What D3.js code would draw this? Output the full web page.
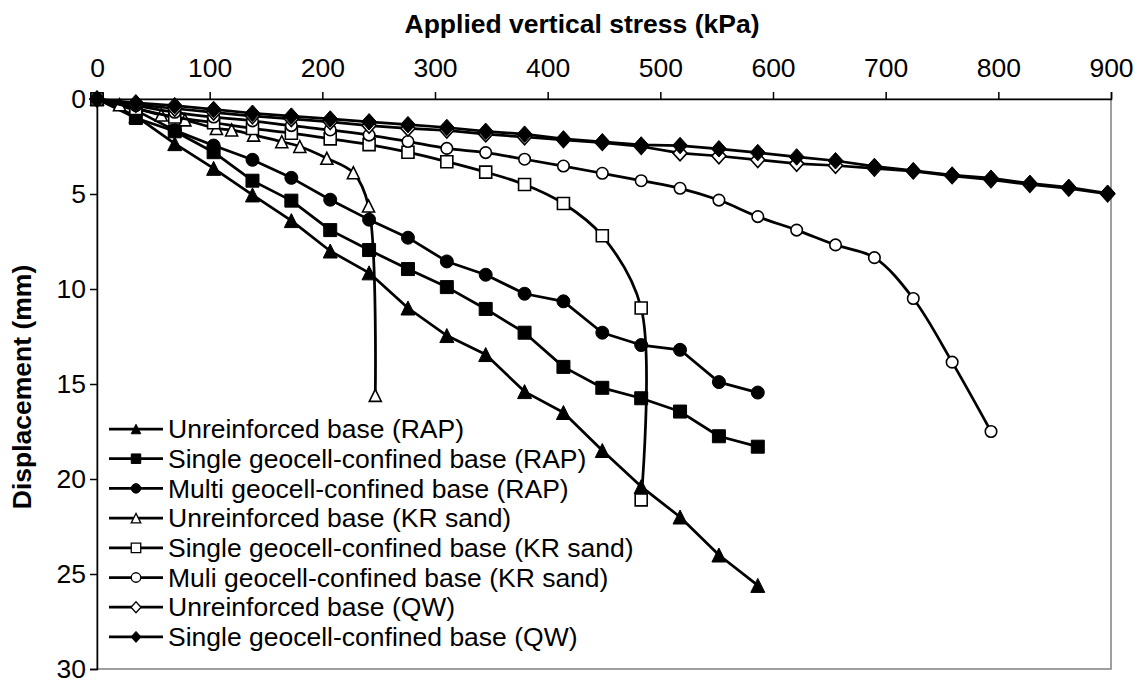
<!DOCTYPE html>
<html><head><meta charset="utf-8">
<script src="https://cdn.jsdelivr.net/npm/d3@7"></script>
<style>
html,body{margin:0;padding:0;background:#fff;}
svg{display:block;}
text{font-family:"Liberation Sans",Arial,sans-serif;fill:#000;}
</style></head>
<body>
<svg id="chart" width="1143" height="686"></svg>
<script>
// ---------- data ----------
const xTicks = [0,100,200,300,400,500,600,700,800,900];
const yTicks = [0,5,10,15,20,25,30];
const seriesNames = [
  "Unreinforced base (RAP)",
  "Single geocell-confined base (RAP)",
  "Multi geocell-confined base (RAP)",
  "Unreinforced base (KR sand)",
  "Single geocell-confined base (KR sand)",
  "Muli geocell-confined base (KR sand)",
  "Unreinforced base (QW)",
  "Single geocell-confined base (QW)"
];
const unreinforcedRAP = [[0,0],[34.5,0.9],[69,2.35],[103.5,3.65],[138,5.05],[172.5,6.4],[207,8.0],[241.5,9.15],[276,11.0],[310.5,12.45],[345,13.45],[379.5,15.4],[414,16.5],[448.5,18.5],[483,20.4],[517.5,22.0],[552,24.0],[586.5,25.6]];
const singleRAP = [[0,0],[34.5,1.0],[69,1.7],[103.5,2.8],[138,4.3],[172.5,5.35],[207,6.9],[241.5,7.95],[276,8.95],[310.5,9.9],[345,11.05],[379.5,12.3],[414,14.1],[448.5,15.2],[483,15.75],[517.5,16.45],[552,17.75],[586.5,18.3]];
const multiRAP = [[0,0],[34.5,0.6],[69,1.65],[103.5,2.45],[138,3.2],[172.5,4.15],[207,5.3],[241.5,6.35],[276,7.3],[310.5,8.55],[345,9.25],[379.5,10.25],[414,10.65],[448.5,12.3],[483,12.95],[517.5,13.2],[552,14.9],[586.5,15.45]];
const unreinforcedKR = [[0,0],[20,0.3],[35,0.5],[57,0.84],[78,1.1],[106,1.55],[119.5,1.63],[139,1.9],[164,2.25],[180,2.5],[204,3.12],[227.5,3.88],[241,5.63],[247,15.6]];
const singleKR = [[0,0],[34.5,0.5],[69,0.95],[103.5,1.25],[138,1.55],[172.5,1.8],[207,2.1],[241.5,2.4],[276,2.8],[310.5,3.3],[345,3.85],[379.5,4.5],[414,5.5],[448.5,7.2],[483,11.0],[483,21.1]];
const multiKR = [[0,0],[34.5,0.35],[69,0.7],[103.5,0.95],[138,1.15],[172.5,1.4],[207,1.63],[241.5,1.9],[276,2.24],[310.5,2.6],[345,2.82],[379.5,3.17],[414,3.53],[448.5,3.91],[483,4.3],[517.5,4.7],[552,5.32],[586.5,6.19],[621,6.9],[655.5,7.68],[690,8.35],[724.5,10.5],[759,13.85],[793.5,17.5]];
const unreinforcedQW = [[0,0],[34.5,0.3],[69,0.5],[103.5,0.7],[138,0.9],[172.5,1.05],[207,1.2],[241.5,1.4],[276,1.55],[310.5,1.65],[345,1.85],[379.5,2.0],[414,2.15],[448.5,2.3],[483,2.5],[517.5,2.85],[552,3.0],[586.5,3.2],[621,3.4],[655.5,3.5],[690,3.65],[724.5,3.8],[759,4.05],[793.5,4.25],[828,4.5],[862.5,4.7],[897,5.0]];
const singleQW = [[0,0],[34.5,0.2],[69,0.35],[103.5,0.55],[138,0.75],[172.5,0.9],[207,1.05],[241.5,1.2],[276,1.35],[310.5,1.5],[345,1.7],[379.5,1.85],[414,2.1],[448.5,2.25],[483,2.42],[517.5,2.45],[552,2.62],[586.5,2.82],[621,3.05],[655.5,3.25],[690,3.55],[724.5,3.77],[759,4.0],[793.5,4.17],[828,4.44],[862.5,4.65],[897,4.96]];

// ---------- setup ----------
const svg = d3.select("#chart");
const L = 97, T = 99, R = 1111, B = 669;
const x = d3.scaleLinear().domain([0,900]).range([L,R]);
const y = d3.scaleLinear().domain([0,30]).range([T,B]);

const series = [
  {name:seriesNames[0], data:unreinforcedRAP, shape:"triangle", filled:true,  smooth:false, size:14},
  {name:seriesNames[1], data:singleRAP,       shape:"square",   filled:true,  smooth:false, size:13},
  {name:seriesNames[2], data:multiRAP,        shape:"circle",   filled:true,  smooth:false, size:13},
  {name:seriesNames[3], data:unreinforcedKR,  shape:"triangle", filled:false, smooth:true,  size:12},
  {name:seriesNames[4], data:singleKR,        shape:"square",   filled:false, smooth:true,  size:12},
  {name:seriesNames[5], data:multiKR,         shape:"circle",   filled:false, smooth:true,  size:11.5},
  {name:seriesNames[6], data:unreinforcedQW,  shape:"diamond",  filled:false, smooth:false, size:14},
  {name:seriesNames[7], data:singleQW,        shape:"diamond",  filled:true,  smooth:false, size:15}
];

function markerPath(shape, s){
  const h = s/2;
  if(shape==="triangle") return `M0,${-h}L${h},${h}L${-h},${h}Z`;
  if(shape==="square") return `M${-h},${-h}H${h}V${h}H${-h}Z`;
  if(shape==="circle") return `M${h},0A${h},${h} 0 1,1 ${-h},0A${h},${h} 0 1,1 ${h},0Z`;
  if(shape==="diamond") return `M0,${-h*1.1}L${h},0L0,${h*1.1}L${-h},0Z`;
}

// plot frame
svg.append("rect").attr("x",L).attr("y",T).attr("width",R-L).attr("height",B-T)
  .attr("fill","none").attr("stroke","#808080").attr("stroke-width",1.5);

// axes
const xAxis = svg.append("g").attr("transform",`translate(0,${T})`)
  .call(d3.axisTop(x).tickValues(xTicks).tickSize(7).tickPadding(15).tickFormat(d3.format("d")));
const yAxis = svg.append("g").attr("transform",`translate(${L},0)`)
  .call(d3.axisLeft(y).tickValues(yTicks).tickSize(7).tickPadding(4).tickFormat(d3.format("d")));
[xAxis,yAxis].forEach(g=>{
  g.select(".domain").attr("stroke","#000").attr("stroke-width",1.5);
  g.selectAll(".tick line").attr("stroke","#000").attr("stroke-width",1.5);
  g.selectAll(".tick text").attr("font-size","26.5px").attr("font-family","'Liberation Sans',Arial,sans-serif").attr("fill","#000");
});
xAxis.selectAll(".tick text").attr("dy","0");

// titles
svg.append("text").attr("x",582).attr("y",33).attr("text-anchor","middle")
  .attr("font-size","26.5px").attr("font-weight","bold").text("Applied vertical stress (kPa)");
svg.append("text").attr("transform","translate(31,387) rotate(-90)").attr("text-anchor","middle")
  .attr("font-size","26.5px").attr("font-weight","bold").text("Displacement (mm)");

// series
const plot = svg.append("g");
series.forEach(s=>{
  const line = d3.line().x(d=>x(d[0])).y(d=>y(d[1]))
    .curve(s.smooth ? d3.curveCatmullRom.alpha(0.5) : d3.curveLinear);
  plot.append("path").datum(s.data).attr("d",line)
    .attr("fill","none").attr("stroke","#000").attr("stroke-width",2.75).attr("stroke-linejoin","round");
  plot.append("g").selectAll("path").data(s.data).join("path")
    .attr("transform",d=>`translate(${x(d[0])},${y(d[1])})`)
    .attr("d",markerPath(s.shape,s.size))
    .attr("fill",s.filled?"#000":"#fff")
    .attr("stroke","#000").attr("stroke-width",s.filled?1:1.6);
});

// legend
const leg = svg.append("g");
series.forEach((s,i)=>{
  const cy = 429 + i*29.7;
  leg.append("line").attr("x1",109).attr("x2",163).attr("y1",cy).attr("y2",cy)
    .attr("stroke","#000").attr("stroke-width",2.75);
  leg.append("path").attr("transform",`translate(136,${cy})`)
    .attr("d",markerPath(s.shape, s.shape==="diamond"?10:9.5))
    .attr("fill",s.filled?"#000":"#fff").attr("stroke","#000").attr("stroke-width",s.filled?1:1.3);
  leg.append("text").attr("x",168).attr("y",cy).attr("dy","0.35em")
    .attr("font-size","26.5px").text(s.name);
});
</script>
</body></html>
